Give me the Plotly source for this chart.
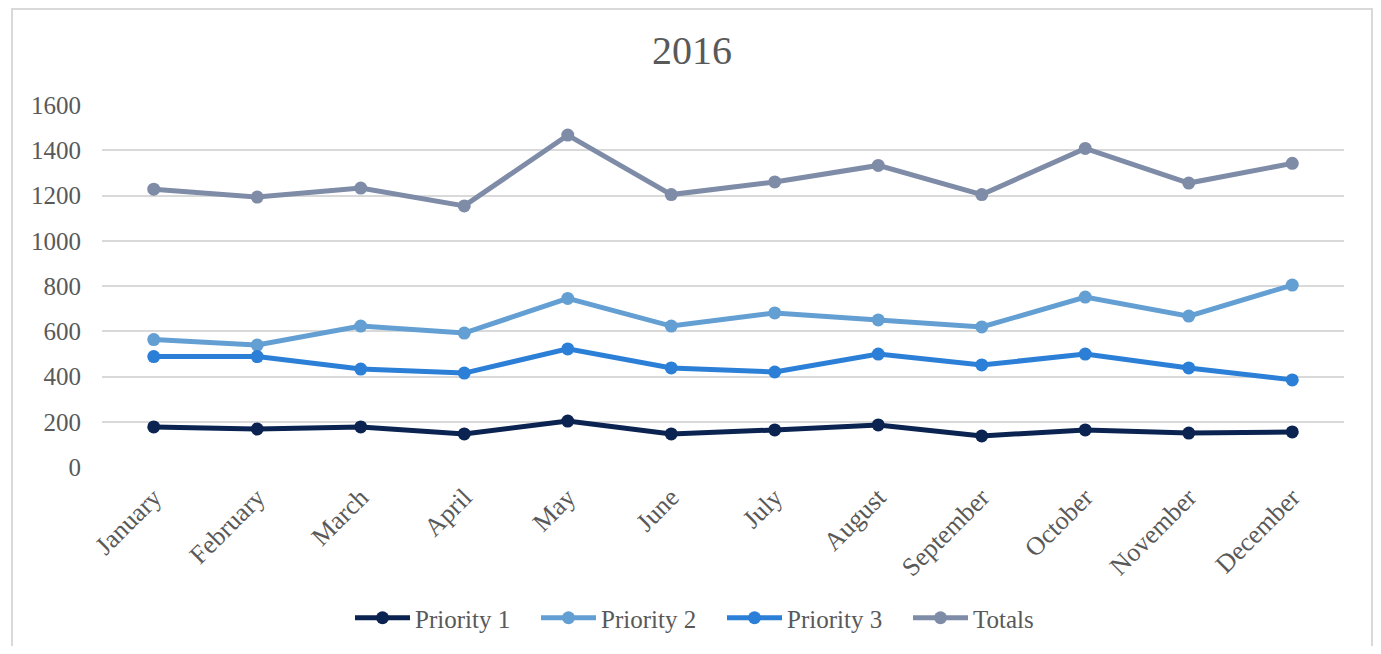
import plotly.graph_objects as go

months = ["January", "February", "March", "April", "May", "June", "July",
          "August", "September", "October", "November", "December"]
priority1 = [177, 168, 177, 146, 203, 146, 164, 186, 137, 164, 150, 155]
priority2 = [563, 539, 623, 592, 745, 623, 681, 650, 619, 751, 667, 804]
priority3 = [488, 488, 433, 415, 522, 438, 420, 499, 451, 499, 438, 385]
totals = [1228, 1193, 1233, 1154, 1467, 1204, 1260, 1333, 1204, 1408, 1255, 1342]
y_ticks = [0, 200, 400, 600, 800, 1000, 1200, 1400, 1600]

series = [
    ("Priority 1", priority1, "#0b2350"),
    ("Priority 2", priority2, "#639fd2"),
    ("Priority 3", priority3, "#2b7fd7"),
    ("Totals", totals, "#7f8ca7"),
]

FONT = "Liberation Serif"
OFF = 8  # page body margin
W, H = 1365, 638
L, R, T, B = 102 - OFF, 29, 105 - OFF, 638 - (467 - OFF)
pw, ph = W - L - R, H - T - B

fig = go.Figure()
for name, vals, col in series:
    fig.add_trace(go.Scatter(
        x=months, y=vals, name=name, mode="lines+markers",
        line=dict(color=col, width=5),
        marker=dict(color=col, size=13),
    ))

def px_x(p):  # page px -> paper
    return (p - OFF - L) / pw

def px_y(p):
    return (H - B - (p - OFF)) / ph

fig.update_layout(
    width=W, height=H,
    margin=dict(l=L, r=R, t=T, b=B, autoexpand=False),
    paper_bgcolor="white", plot_bgcolor="white",
    title=dict(text="2016", x=(692 - OFF) / W, xanchor="center", y=1 - (50 - OFF) / H,
               yanchor="middle", font=dict(family=FONT, size=40, color="#595959")),
    font=dict(family=FONT, color="#595959"),
    xaxis=dict(type="category", range=[-0.5, len(months) - 0.5], autorange=False,
               tickangle=-45, showgrid=False, showline=False, automargin=False,
               ticks="", tickfont=dict(size=26, color="#595959"), fixedrange=True,
               ticklabelstandoff=9),
    yaxis=dict(range=[0, 1600], autorange=False, tickvals=y_ticks, showgrid=True,
               gridcolor="#d9d9d9", automargin=False,
               gridwidth=1.5, zeroline=False, showline=False, ticks="",
               tickfont=dict(size=25, color="#595959"), ticklabelstandoff=20),
    legend=dict(orientation="h", x=px_x(350), xanchor="left", y=px_y(618), yanchor="middle",
                font=dict(size=25, color="#595959"), itemwidth=55,
                entrywidth=116, entrywidthmode="pixels",
                bgcolor="rgba(0,0,0,0)"),
    showlegend=True,
    shapes=[dict(type="path", xref="paper", yref="paper",
                 path="M {x0},{y0} L {x0},{y1} L {x1},{y1} L {x1},{y0}".format(
                     x0=px_x(12), x1=px_x(1372), y0=px_y(700), y1=px_y(9)),
                 line=dict(color="#d9d9d9", width=2), layer="below")],
)

fig.write_html("out.html")
